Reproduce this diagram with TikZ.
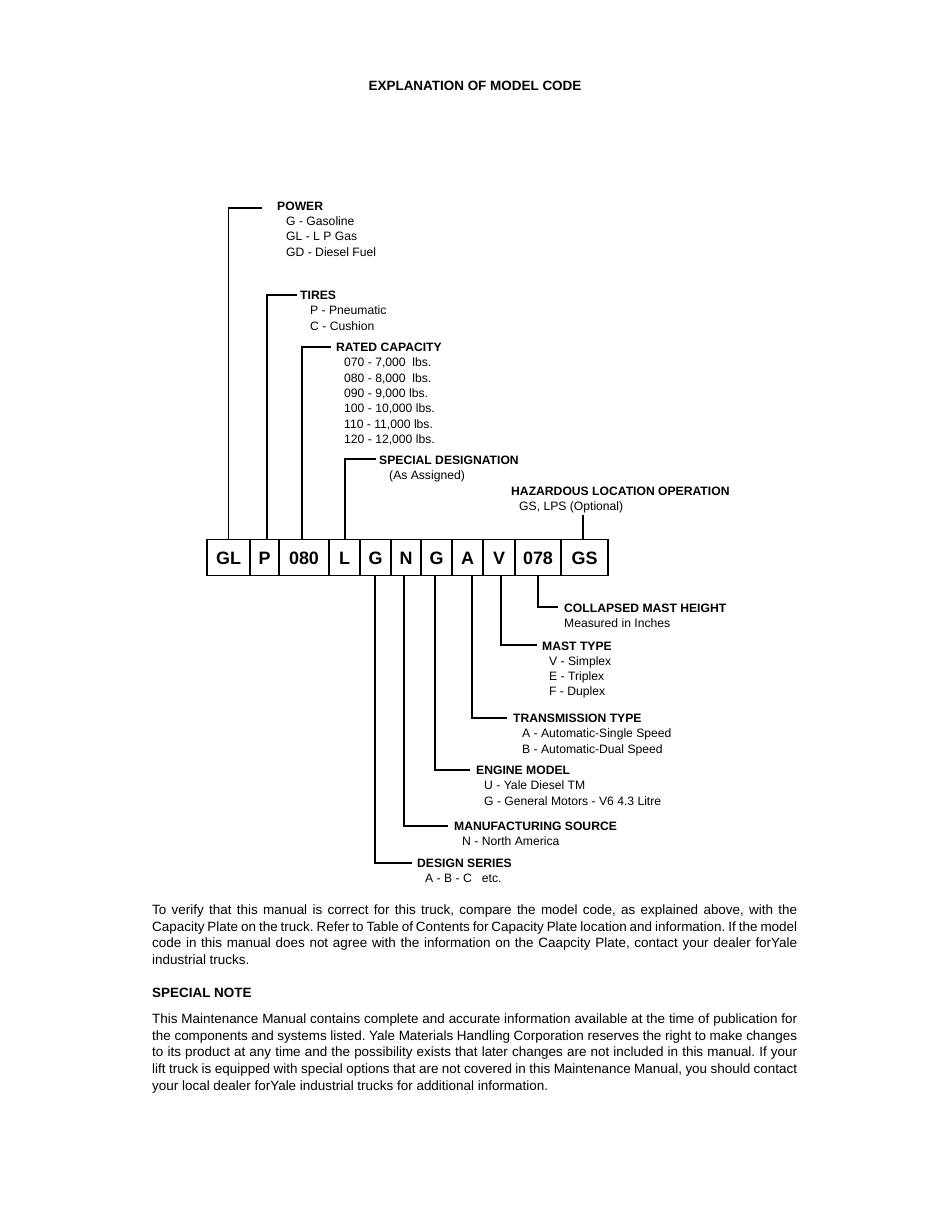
\documentclass[tikz,border=0pt]{standalone}
\usepackage{fontspec}
\setmainfont{Liberation Sans}
\begin{document}
\frenchspacing
\begin{tikzpicture}[x=1bp,y=-1bp,
  lead/.style={line width=1.5bp},
  cbox/.style={draw, line width=1.5bp, minimum height=36bp, inner sep=0pt, outer sep=0pt,
    font=\fontsize{18}{20}\selectfont\bfseries, text height=12.9bp, text depth=0bp},
  hdr/.style={anchor=base west, inner sep=0pt, font=\fontsize{12.2}{14}\selectfont\bfseries},
  itm/.style={anchor=base west, inner sep=0pt, font=\fontsize{12.2}{14}\selectfont},
  ttl/.style={anchor=base, inner sep=0pt, font=\fontsize{13.5}{16}\selectfont\bfseries},
  para/.style={anchor=base west, inner sep=0pt, font=\fontsize{13.5}{15}\selectfont},
  parahdr/.style={anchor=base west, inner sep=0pt, font=\fontsize{13.5}{15}\selectfont\bfseries}]
\path[use as bounding box, fill=white] (0,0) rectangle (935,1210);

% title
\node[ttl] (title) at (475,90.5) {EXPLANATION OF MODEL CODE};

% code boxes
\node[cbox, minimum width=43bp] (bGL) at (228.5,557.6) {GL};
\node[cbox, minimum width=29bp] (bP) at (264.5,557.6) {P};
\node[cbox, minimum width=50bp] (b080) at (304,557.6) {080};
\node[cbox, minimum width=31bp] (bL) at (344.5,557.6) {L};
\node[cbox, minimum width=31bp] (bG) at (375.5,557.6) {G};
\node[cbox, minimum width=30bp] (bN) at (406,557.6) {N};
\node[cbox, minimum width=31bp] (bG2) at (436.5,557.6) {G};
\node[cbox, minimum width=31bp] (bA) at (467.5,557.6) {A};
\node[cbox, minimum width=32bp] (bV) at (499,557.6) {V};
\node[cbox, minimum width=46bp] (b078) at (538,557.6) {078};
\node[cbox, minimum width=47bp] (bGS) at (584.5,557.6) {GS};

% leader end points
\coordinate (pw) at (262,208);
\coordinate (tr) at (297,295);
\coordinate (rc) at (331,347);
\coordinate (sd) at (376,459);
\coordinate (hz) at (583,515);
\coordinate (cm) at (558,607);
\coordinate (mt) at (537,645);
\coordinate (tt) at (507,718);
\coordinate (em) at (470,770);
\coordinate (ms) at (448,826);
\coordinate (ds) at (412,863);

% leaders above
\draw[lead] (bGL.north) |- (pw);
\draw[lead] ([xshift=2.5bp]bP.north) |- (tr);
\draw[lead] ([xshift=-2bp]b080.north) |- (rc);
\draw[lead] ([xshift=0.5bp]bL.north) |- (sd);
\draw[lead] (bGS.north -| hz) -- (hz);
% leaders below
\draw[lead] (b078.south) |- (cm);
\draw[lead] ([xshift=2bp]bV.south) |- (mt);
\draw[lead] ([xshift=4.5bp]bA.south) |- (tt);
\draw[lead] ([xshift=-1.5bp]bG2.south) |- (em);
\draw[lead] ([xshift=-2bp]bN.south) |- (ms);
\draw[lead] ([xshift=-0.5bp]bG.south) |- (ds);

% POWER
\node[hdr] (power) at (277,210) {POWER};
\node[itm] (power1) at (286,225.5) {G - Gasoline};
\node[itm] (power2) at (286,240.8) {GL - L P Gas};
\node[itm] (power3) at (286,256.1) {GD - Diesel Fuel};
% TIRES
\node[hdr] (tires) at (300,299.5) {TIRES};
\node[itm] (tires1) at (310,314.8) {P - Pneumatic};
\node[itm] (tires2) at (310,330.1) {C - Cushion};
% RATED CAPACITY
\node[hdr] (rated) at (336,351.5) {RATED CAPACITY};
\node[itm] (rated1) at (344,366.8) {070 - 7,000\ \ lbs.};
\node[itm] (rated2) at (344,382.1) {080 - 8,000\ \ lbs.};
\node[itm] (rated3) at (344,397.4) {090 - 9,000 lbs.};
\node[itm] (rated4) at (344,412.7) {100 - 10,000 lbs.};
\node[itm] (rated5) at (344,428.0) {110 - 11,000 lbs.};
\node[itm] (rated6) at (344,443.3) {120 - 12,000 lbs.};
% SPECIAL DESIGNATION
\node[hdr] (special) at (379,464) {SPECIAL DESIGNATION};
\node[itm] (special1) at (389,479.3) {(As Assigned)};
% HAZARDOUS
\node[hdr] (hazard) at (511,495.5) {HAZARDOUS LOCATION OPERATION};
\node[itm] (hazard1) at (519,510.8) {GS, LPS (Optional)};
% COLLAPSED MAST HEIGHT
\node[hdr] (collapsed) at (564,612.5) {COLLAPSED MAST HEIGHT};
\node[itm] (collapsed1) at (564,627.8) {Measured in Inches};
% MAST TYPE
\node[hdr] (mast) at (542,650) {MAST TYPE};
\node[itm] (mast1) at (549,665.3) {V - Simplex};
\node[itm] (mast2) at (549,680.6) {E - Triplex};
\node[itm] (mast3) at (549,695.9) {F - Duplex};
% TRANSMISSION TYPE
\node[hdr] (trans) at (513,722.5) {TRANSMISSION TYPE};
\node[itm] (trans1) at (522,737.8) {A - Automatic-Single Speed};
\node[itm] (trans2) at (522,753.1) {B - Automatic-Dual Speed};
% ENGINE MODEL
\node[hdr] (engine) at (476,774.5) {ENGINE MODEL};
\node[itm] (engine1) at (484,789.8) {U - Yale Diesel TM};
\node[itm] (engine2) at (484,805.1) {G - General Motors - V6 4.3 Litre};
% MANUFACTURING SOURCE
\node[hdr] (manuf) at (454,830.5) {MANUFACTURING SOURCE};
\node[itm] (manuf1) at (462,845.8) {N - North America};
% DESIGN SERIES
\node[hdr] (design) at (417,867.5) {DESIGN SERIES};
\node[itm] (design1) at (425,882.8) {A - B - C\ \ \ etc.};

% paragraph 1
\node[para] (p1a) at (152,914.3) {\makebox[645bp][s]{To verify that this manual is correct for this truck, compare the model code, as explained above, with the}};
\node[para] (p1b) at (152,931.0) {\makebox[645bp][s]{Capacity Plate on the truck. Refer to Table of Contents for Capacity Plate location and information. If the model}};
\node[para] (p1c) at (152,947.7) {\makebox[645bp][s]{code in this manual does not agree with the information on the Caapcity Plate, contact your dealer forYale}};
\node[para] (p1d) at (152,964.3) {industrial trucks.};

\node[parahdr] (note) at (152,997.7) {SPECIAL NOTE};

% paragraph 2
\node[para] (p2a) at (152,1023.3) {\makebox[645bp][s]{This Maintenance Manual contains complete and accurate information available at the time of publication for}};
\node[para] (p2b) at (152,1040.0) {\makebox[645bp][s]{the components and systems listed. Yale Materials Handling Corporation reserves the right to make changes}};
\node[para] (p2c) at (152,1056.7) {\makebox[645bp][s]{to its product at any time and the possibility exists that later changes are not included in this manual. If your}};
\node[para] (p2d) at (152,1073.3) {\makebox[645bp][s]{lift truck is equipped with special options that are not covered in this Maintenance Manual, you should contact}};
\node[para] (p2e) at (152,1090.0) {your local dealer forYale industrial trucks for additional information.};
\end{tikzpicture}
\end{document}
